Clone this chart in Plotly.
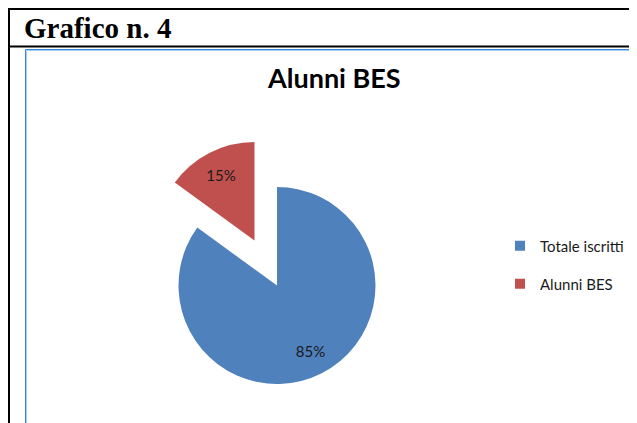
import plotly.graph_objects as go

# dati
labels = ['Totale iscritti', 'Alunni BES']
values = [85, 15]
colors = ['#4F81BD', '#C0504D']
title_text = 'Alunni BES'
header_text = 'Grafico n. 4'

# la pagina html ha un margine di 8px sul body
OFF = 8
W, H = 637 - OFF, 423 - OFF
TRANSP = 'rgba(0,0,0,0)'


def px(x):
    return (x - OFF) / W


def py(y):
    return 1 - (y - OFF) / H


def px_domain(cx, cy, r):
    """dominio (paper) di un quadrato centrato in (cx, cy) pixel della pagina"""
    return dict(x=[px(cx - r), px(cx + r)], y=[py(cy + r), py(cy - r)])


dom_big = px_domain(277, 285.5, 98.5)
dom_pull = px_domain(254.5, 240.5, 98.5)

fig = go.Figure()

# fetta grande (Totale iscritti)
fig.add_trace(go.Pie(
    labels=labels, values=values,
    marker=dict(colors=[colors[0], TRANSP], line=dict(width=0)),
    textinfo='none',
    domain=dom_big, sort=False, direction='clockwise', rotation=0,
    showlegend=False, hoverinfo='label+percent'
))

# fetta esplosa (Alunni BES)
fig.add_trace(go.Pie(
    labels=labels, values=values,
    marker=dict(colors=[TRANSP, colors[1]], line=dict(width=0)),
    textinfo='none',
    domain=dom_pull, sort=False, direction='clockwise', rotation=0,
    showlegend=False, hoverinfo='label+percent'
))

# etichette percentuali (anelli trasparenti sopra le fette)
for dom, tmpl in [(dom_big, ['%{percent:.0%}', '']), (dom_pull, ['', '%{percent:.0%}'])]:
    fig.add_trace(go.Pie(
        labels=labels, values=values, hole=0.5,
        marker=dict(colors=[TRANSP, TRANSP], line=dict(width=0)),
        texttemplate=tmpl,
        textposition='inside',
        insidetextorientation='horizontal',
        textfont=dict(family='Lato', size=15, color='#1a1a1a'),
        domain=dom, sort=False, direction='clockwise', rotation=0,
        showlegend=False, hoverinfo='skip'
    ))

# legenda
for i, (lab, col) in enumerate(zip(labels, colors)):
    fig.add_trace(go.Scatter(
        x=[None], y=[None],
        mode='markers',
        name=lab,
        legendgroup=f'g{i}',
        marker=dict(symbol='square', size=10, color=col)
    ))

# cornici della tabella e del grafico
shapes = [
    dict(type='line', xref='paper', yref='paper', x0=px(9), x1=1.01, y0=py(9), y1=py(9),
         line=dict(color='black', width=2)),
    dict(type='line', xref='paper', yref='paper', x0=px(9), x1=1.01, y0=py(46.5), y1=py(46.5),
         line=dict(color='black', width=2)),
    dict(type='line', xref='paper', yref='paper', x0=px(9), x1=px(9), y0=-0.05, y1=1.05,
         line=dict(color='black', width=2)),
    dict(type='rect', xref='paper', yref='paper', x0=px(25.5), x1=1.05, y0=-0.05, y1=py(49.5),
         line=dict(color='#3a86d6', width=1)),
    dict(type='rect', xref='paper', yref='paper', x0=px(26.5), x1=1.05, y0=-0.05, y1=py(50.5),
         line=dict(color='#a9cdf0', width=1)),
]

fig.update_layout(
    width=W,
    height=H,
    margin=dict(l=0, r=0, t=0, b=0),
    paper_bgcolor='white',
    plot_bgcolor='white',
    shapes=shapes,
    showlegend=True,
    legend=dict(
        x=px(500), xanchor='left',
        y=py(229.5), yanchor='top',
        traceorder='grouped',
        tracegroupgap=15.5,
        font=dict(family='Lato', size=15, color='#1a1a1a'),
        bgcolor='rgba(0,0,0,0)'
    ),
    annotations=[
        dict(text=f'<b>{header_text}</b>', xref='paper', yref='paper',
             x=px(22), y=py(27.5), xanchor='left', yanchor='middle', showarrow=False,
             font=dict(family='Liberation Serif', size=29, color='black')),
        dict(text=f'<b>{title_text}</b>', xref='paper', yref='paper',
             x=px(334), y=py(77), xanchor='center', yanchor='middle', showarrow=False,
             font=dict(family='Lato', size=27, color='black')),
    ]
)
fig.update_xaxes(visible=False)
fig.update_yaxes(visible=False)

fig.write_html("out.html")
